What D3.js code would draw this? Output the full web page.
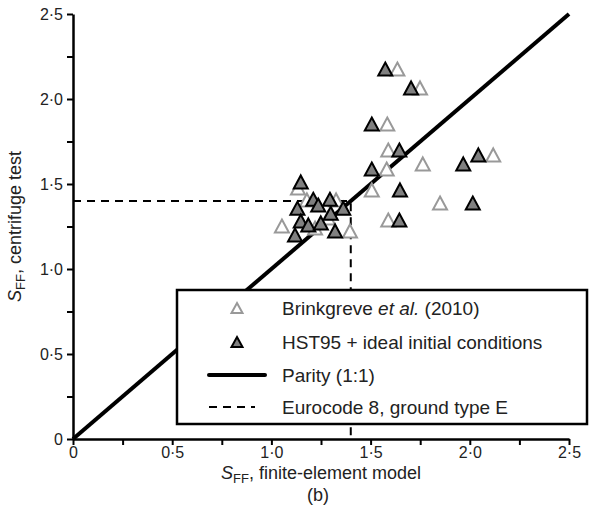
<!DOCTYPE html>
<html>
<head>
<meta charset="utf-8">
<title>SFF comparison</title>
<style>
  body { margin: 0; background: #fff; }
  svg { display: block; font-family: "Liberation Sans", Arial, sans-serif; }
</style>
</head>
<body>
<svg width="601" height="518"></svg>
<script src="https://d3js.org/d3.v7.min.js"></script>
<script>

// Brinkgreve et al. (2010) - open grey triangles
var brinkX = [1.134, 1.179, 1.053, 1.396, 1.220, 1.285, 1.326,
              1.635, 1.749, 1.584, 1.589, 1.581, 1.763, 1.506, 1.850, 1.589, 2.118];
var brinkY = [1.476, 1.406, 1.253, 1.224, 1.241, 1.300, 1.406,
              2.176, 2.065, 1.853, 1.700, 1.588, 1.618, 1.465, 1.388, 1.288, 1.671];

// HST95 + ideal initial conditions - filled triangles
var hstX = [1.148, 1.211, 1.295, 1.236, 1.131, 1.362, 1.299, 1.148, 1.186, 1.249, 1.119, 1.321,
            1.574, 1.704, 1.506, 1.645, 1.506, 1.648, 1.645, 1.967, 2.043, 2.015];
var hstY = [1.512, 1.410, 1.410, 1.376, 1.357, 1.357, 1.328, 1.282, 1.259, 1.271, 1.200, 1.224,
            2.176, 2.065, 1.853, 1.700, 1.588, 1.465, 1.288, 1.618, 1.671, 1.388];

var eurocode = 1.4;
var parity = [0, 2.5];

var tickVals = [0, 0.5, 1, 1.5, 2, 2.5];
var tickLabels = ["0", "0·5", "1·0", "1·5", "2·0", "2·5"];
var minorTicks = [0, 0.25, 0.5, 0.75, 1, 1.25, 1.5, 1.75, 2, 2.25, 2.5];

var legendLabels = ["Brinkgreve ", "HST95 + ideal initial conditions", "Parity (1:1)", "Eurocode 8, ground type E"];

var svg = d3.select("svg");

var x = d3.scaleLinear().domain([0, 2.5]).range([73, 569]);
var y = d3.scaleLinear().domain([0, 2.5]).range([439, 14]);

function fmt(d) {
  var i = tickVals.indexOf(d);
  return i < 0 ? "" : tickLabels[i];
}

function tri(cx, cy, w, h) {
  return "M" + cx + "," + (cy - h / 2) + "L" + (cx + w / 2) + "," + (cy + h / 2) +
         "L" + (cx - w / 2) + "," + (cy + h / 2) + "Z";
}

// eurocode dashed lines
svg.append("path")
    .attr("d", d3.line()([[x(0), y(eurocode)], [x(eurocode), y(eurocode)], [x(eurocode), y(0)]]))
    .attr("fill", "none")
    .attr("stroke", "#000")
    .attr("stroke-width", 2)
    .attr("stroke-dasharray", "8,6");

// parity line
svg.append("line")
    .attr("x1", x(parity[0])).attr("y1", y(parity[0]))
    .attr("x2", x(parity[1])).attr("y2", y(parity[1]))
    .attr("stroke", "#000")
    .attr("stroke-width", 4);

// points
svg.append("g").selectAll("path")
  .data(d3.range(brinkX.length))
  .enter().append("path")
    .attr("d", function(i) { return tri(x(brinkX[i]), y(brinkY[i]), 14, 13); })
    .attr("fill", "#fff")
    .attr("stroke", "#999")
    .attr("stroke-width", 2);

svg.append("g").selectAll("path")
  .data(d3.range(hstX.length))
  .enter().append("path")
    .attr("d", function(i) { return tri(x(hstX[i]), y(hstY[i]), 14, 13); })
    .attr("fill", "#808080")
    .attr("stroke", "#000")
    .attr("stroke-width", 2);

// axes
var gx = svg.append("g")
    .attr("transform", "translate(0," + y(0) + ")")
    .call(d3.axisBottom(x).tickValues(minorTicks).tickSize(6).tickSizeOuter(0).tickFormat(fmt));
var gy = svg.append("g")
    .attr("transform", "translate(" + x(0) + ",0)")
    .call(d3.axisLeft(y).tickValues(minorTicks).tickSize(6).tickSizeOuter(0).tickFormat(fmt));

[gx, gy].forEach(function(g) {
  g.selectAll(".domain").attr("stroke-width", 2.5);
  g.selectAll(".tick line").attr("stroke-width", 2);
  g.selectAll("text")
    .attr("font-size", 16)
    .attr("fill", "#222")
    .attr("font-family", "Liberation Sans, Arial, sans-serif");
});
gx.selectAll("text").attr("y", 8).attr("dy", "0.71em");
gy.selectAll("text").attr("x", -10);

// axis titles
var xt = svg.append("text")
    .attr("x", 321).attr("y", 479)
    .attr("text-anchor", "middle")
    .attr("font-size", 18)
    .attr("fill", "#222");
xt.append("tspan").attr("font-style", "italic").text("S");
xt.append("tspan").attr("font-size", 13).attr("dy", 4).text("FF");
xt.append("tspan").attr("dy", -4).text(", finite-element model");

svg.append("text")
    .attr("x", 318).attr("y", 501)
    .attr("text-anchor", "middle")
    .attr("font-size", 18)
    .attr("fill", "#222")
    .text("(b)");

var yt = svg.append("text")
    .attr("transform", "translate(21," + y(1.25) + ") rotate(-90)")
    .attr("text-anchor", "middle")
    .attr("font-size", 18)
    .attr("fill", "#222");
yt.append("tspan").attr("font-style", "italic").text("S");
yt.append("tspan").attr("font-size", 13).attr("dy", 4).text("FF");
yt.append("tspan").attr("dy", -4).text(", centrifuge test");

// legend
var lg = svg.append("g");
lg.append("rect")
    .attr("x", 177).attr("y", 290)
    .attr("width", 410).attr("height", 134)
    .attr("fill", "#fff")
    .attr("stroke", "#000")
    .attr("stroke-width", 2.5);

var rowY = [308, 342, 375, 407];
var mx = 237, tx = 282;

lg.append("path").attr("d", tri(mx, rowY[0], 11, 10))
    .attr("fill", "#fff").attr("stroke", "#999").attr("stroke-width", 2);
lg.append("path").attr("d", tri(mx, rowY[1], 11, 10))
    .attr("fill", "#808080").attr("stroke", "#000").attr("stroke-width", 2);
lg.append("line").attr("x1", 209).attr("x2", 265).attr("y1", rowY[2]).attr("y2", rowY[2])
    .attr("stroke", "#000").attr("stroke-width", 4).attr("stroke-linecap", "round");
lg.append("line").attr("x1", 209).attr("x2", 255).attr("y1", rowY[3]).attr("y2", rowY[3])
    .attr("stroke", "#000").attr("stroke-width", 2).attr("stroke-dasharray", "8,6");

var lt = lg.selectAll("text.leg")
  .data(legendLabels)
  .enter().append("text")
    .attr("class", "leg")
    .attr("x", tx)
    .attr("y", function(d, i) { return rowY[i]; })
    .attr("dy", "0.35em")
    .attr("font-size", 19)
    .attr("fill", "#222")
    .text(function(d, i) { return i === 0 ? null : d; });

var first = lt.filter(function(d, i) { return i === 0; });
first.append("tspan").text(legendLabels[0]);
first.append("tspan").attr("font-style", "italic").text("et al.");
first.append("tspan").text(" (2010)");

</script>
</body>
</html>
